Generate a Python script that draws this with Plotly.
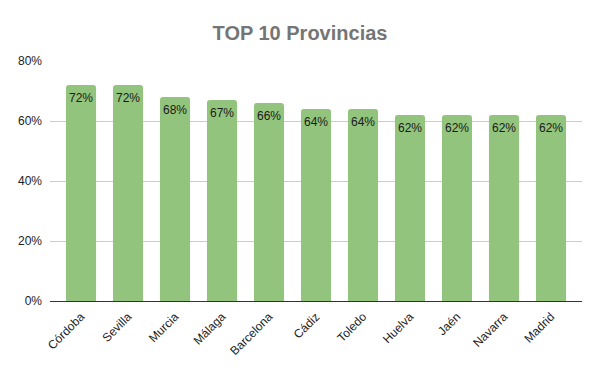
import plotly.graph_objects as go

provincias = ["Córdoba", "Sevilla", "Murcia", "Málaga", "Barcelona", "Cádiz",
              "Toledo", "Huelva", "Jaén", "Navarra", "Madrid"]
valores = [0.72, 0.72, 0.68, 0.67, 0.66, 0.64, 0.64, 0.62, 0.62, 0.62, 0.62]
etiquetas = ["72%", "72%", "68%", "67%", "66%", "64%", "64%", "62%", "62%", "62%", "62%"]
ticks_y = [0, 0.2, 0.4, 0.6, 0.8]
ticks_y_text = ["0%", "20%", "40%", "60%", "80%"]

fig = go.Figure()
fig.add_trace(go.Bar(
    x=provincias, y=valores,
    marker=dict(color="#93c47d", cornerradius=3, line=dict(width=0)),
    width=0.64, hoverinfo="x+y",
))

for prov, val, lab in zip(provincias, valores, etiquetas):
    fig.add_annotation(
        x=prov, y=val, text=lab, showarrow=False,
        xanchor="center", yanchor="middle", yshift=-13,
        font=dict(family="Liberation Sans, Arial", size=12, color="#1a1a1a"),
    )

fig.update_layout(
    width=600, height=371,
    margin=dict(l=50, r=18, t=61, b=70),
    paper_bgcolor="white", plot_bgcolor="white",
    title=dict(text="<b>TOP 10 Provincias</b>", x=0.5, xanchor="center",
               y=1 - 33 / 371, yanchor="middle",
               font=dict(family="Liberation Sans, Arial", size=20, color="#757575")),
    font=dict(family="Liberation Sans, Arial", size=12, color="#222222"),
    showlegend=False,
    xaxis=dict(range=[-0.66, 10.66], tickangle=-45, showgrid=False, showline=True,
               linecolor="#333333", linewidth=1, ticks="", ticklabelstandoff=3,
               tickfont=dict(size=12, color="#222222")),
    yaxis=dict(range=[0, 0.8], tickvals=ticks_y, ticktext=ticks_y_text,
               showgrid=True, gridcolor="#cccccc", zeroline=False,
               ticks="", ticklabelstandoff=7,
               tickfont=dict(size=12, color="#222222")),
)

fig.write_html("out.html", config={"displayModeBar": False},
               post_script="document.body.style.margin='0';")
